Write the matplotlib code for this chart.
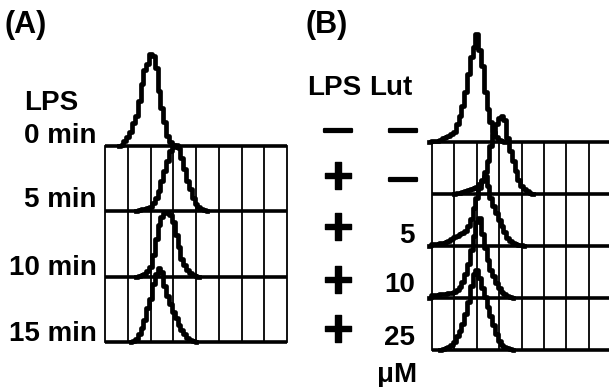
import numpy as np
from matplotlib import pyplot as plt
import matplotlib.patheffects as pe

'''
Fonts: Arial look-alike first, DejaVu as fallback
'''
plt.rcParams['font.family'] = ['Liberation Sans', 'DejaVu Sans']

W, H = 609, 387

# bin width of the histograms, in grid columns (one column = one decade)
binStep = 0.125

'''
Panel (A): LPS time course, counts read off the picture
'''
labelsA = ['0 min', '5 min', '10 min', '15 min']
startA = [0.75, 1.5, 1.5, 1.25]
countsA = [
    [1, 5, 9, 14, 23, 30, 45, 62, 76, 82, 92, 90, 78, 55, 38, 24, 10, 4, 1],
    [1, 2, 2, 3, 4, 8, 13, 20, 30, 40, 50, 60, 64, 66, 63, 53, 42, 30, 22, 13, 7, 4, 2, 1],
    [1, 2, 3, 6, 10, 22, 38, 52, 60, 64, 65, 62, 55, 42, 30, 18, 12, 7, 4, 2, 1],
    [1, 3, 8, 14, 22, 34, 43, 58, 68, 74, 70, 56, 46, 38, 30, 24, 17, 12, 8, 4, 2, 1],
]

'''
Panel (B): LPS +/- luteolin, counts read off the picture
'''
lpsB = ['\u2014', '+', '+', '+', '+']
lutB = ['\u2014', '\u2014', '5', '10', '25']
startB = [0.0, 1.125, 0.0, 0.0, 0.5]
countsB = [
    [1, 1, 1, 2, 4, 5, 6, 8, 10, 18, 26, 36, 50, 68, 85, 95, 108, 92, 76, 50, 33, 20, 10, 5, 2, 1],
    [1, 1, 2, 3, 4, 5, 6, 7, 10, 13, 22, 33, 48, 60, 70, 76, 78, 74, 56, 43, 33, 23, 14, 8, 5, 3, 1],
    [2, 2, 2, 3, 3, 4, 5, 7, 9, 10, 12, 13, 15, 20, 27, 38, 48, 58, 66, 70, 60, 48, 40, 33, 26, 20, 14, 8, 5, 3, 2, 1, 1],
    [3, 3, 3, 4, 4, 4, 5, 5, 6, 8, 11, 16, 24, 34, 48, 62, 76, 80, 64, 50, 38, 28, 22, 15, 10, 6, 4, 2, 1],
    [1, 2, 3, 5, 8, 14, 19, 26, 36, 48, 64, 76, 80, 72, 62, 53, 43, 34, 25, 16, 9, 5, 3, 2, 1],
]


'''
Draw one stacked-histogram panel: grid box plus outlines
'''
def drawPanel(ax, starts, counts, rowH, nCols, rightEdge):
    nRows = len(counts)
    top = (nRows - 1) * rowH
    # vertical grid lines
    for c in range(nCols + 1):
        if c == nCols and not rightEdge:
            continue
        ax.plot([c, c], [0, top], color='black', lw=1.3, zorder=1, clip_on=False)
    # baselines
    for i in range(nRows):
        base = (nRows - 1 - i) * rowH
        ax.plot([0, nCols], [base, base], color='black', lw=2.6, zorder=2,
                solid_capstyle='butt', clip_on=False)
    # histograms
    for i in range(nRows):
        base = (nRows - 1 - i) * rowH
        y = np.array(counts[i], dtype=float)
        x = starts[i] + binStep * np.arange(len(y))
        x = np.concatenate([[x[0] - binStep], x, [x[-1] + binStep]])
        y = np.concatenate([[0], y, [0]])
        ax.plot(x, base + y, drawstyle='steps-mid', color='black', lw=3.4,
                zorder=3, clip_on=False)
    ax.set_xlim(0, nCols)
    ax.axis('off')


fig = plt.figure(figsize=(W / 100, H / 100), dpi=100)

axA = fig.add_axes([105 / W, (H - 360) / H, 182 / W, 340 / H])
axA.set_ylim(-18, 322)
drawPanel(axA, startA, countsA, 65.3, 8, True)

axB = fig.add_axes([432 / W, (H - 360) / H, 179.2 / W, 340 / H])
axB.set_ylim(-10, 330)
drawPanel(axB, startB, countsB, 52.0, 8, False)


'''
Texts, placed in pixel positions of the figure
'''
def txt(x, y, s, **kw):
    opts = dict(fontsize=20, fontweight='bold', va='baseline')
    opts.update(kw)
    fig.text(x / W, 1 - y / H, s, **opts)


# slightly thicker strokes for the +/- signs
plusFx = [pe.withStroke(linewidth=1.0, foreground='black')]
dashFx = [pe.withStroke(linewidth=1.6, foreground='black')]

txt(5, 33, '(A)', fontsize=22)
txt(305, 33, '(B)', fontsize=22)

txt(24, 110, 'LPS', ha='left')
rowYA = [143, 207, 275, 341]
for s, y in zip(labelsA, rowYA):
    txt(97, y, s, ha='right')

txt(307, 95, 'LPS', ha='left')
txt(369, 95, 'Lut', ha='left')
rowYB = [131, 179, 230, 283, 332]
for s, y in zip(lpsB, rowYB):
    if s == '+':
        txt(338, y, s, ha='center', va='center', fontsize=38, path_effects=plusFx)
    else:
        txt(338, y, s, ha='center', va='center', fontsize=20, path_effects=dashFx)
lutY = [131, 180, 243, 292, 345]
for s, y in zip(lutB, lutY):
    if s == '\u2014':
        txt(403, y, s, ha='center', va='center', fontsize=20, path_effects=dashFx)
    else:
        txt(415, y, s, ha='right')
txt(417, 382, '\u03bcM', ha='right')

plt.savefig('out.png', dpi=100)
